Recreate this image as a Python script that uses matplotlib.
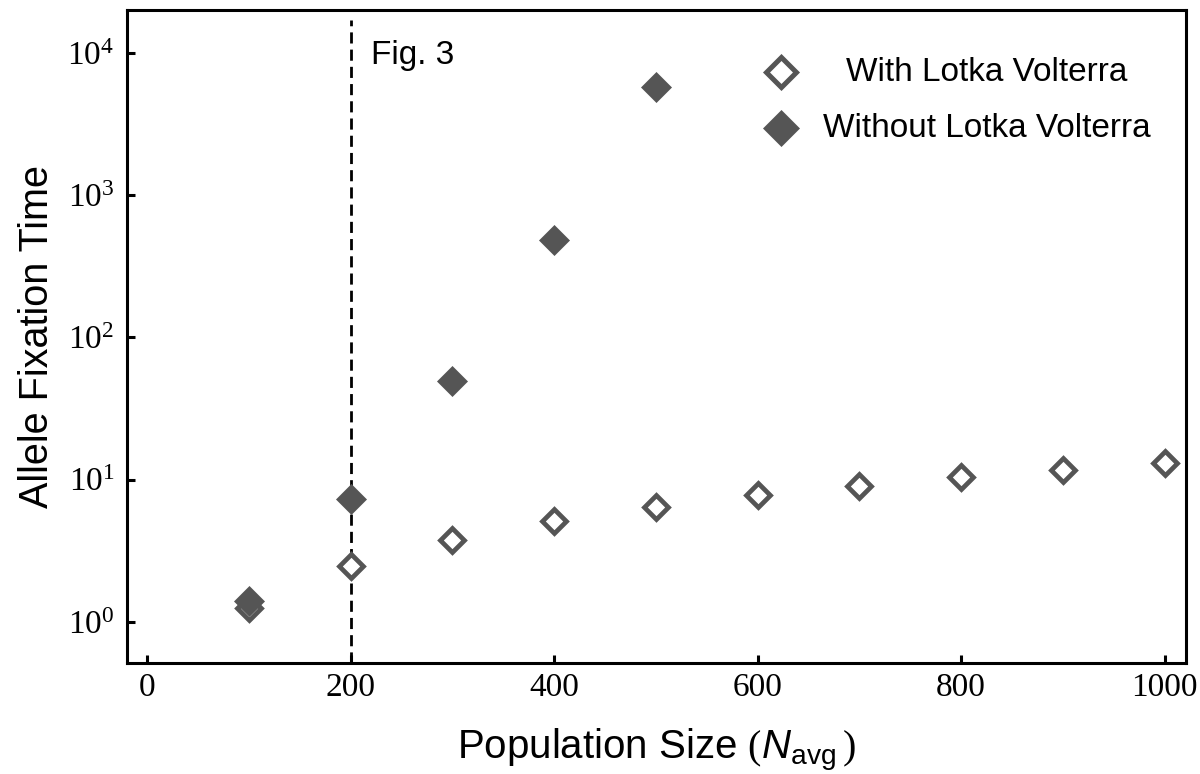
import matplotlib
matplotlib.use("Agg")
import matplotlib.pyplot as plt
import numpy as np

# ----------------------------------------------------------------------
#  Data
# ----------------------------------------------------------------------
n_with = [100, 200, 300, 400, 500, 600, 700, 800, 900, 1000]
t_with = [1.25, 2.48, 3.78, 5.1, 6.45, 7.8, 9.05, 10.5, 11.7, 13.1]

n_without = [100, 200, 300, 400, 500]
t_without = [1.41, 7.3, 49.5, 480, 5750]

fig3_n = 200
labels = ["With Lotka Volterra", "Without Lotka Volterra"]

# ----------------------------------------------------------------------
#  Style
# ----------------------------------------------------------------------
plt.rcParams['font.family'] = 'Liberation Serif'
plt.rcParams['mathtext.fontset'] = 'custom'
plt.rcParams['mathtext.rm'] = 'Liberation Serif'
plt.rcParams['mathtext.it'] = 'Liberation Sans:italic'
plt.rcParams['mathtext.sf'] = 'Liberation Sans'

grey = '#555555'
sans = 'Liberation Sans'

fig = plt.figure(figsize=(12, 7.74), dpi=100)
ax = fig.add_axes([0.1058, 0.1434, 0.8825, 0.8436])

ax.plot(n_with, t_with, linestyle='none', marker='D', ms=12.5,
		mfc='white', mec=grey, mew=3.4, zorder=3)
ax.plot(n_without, t_without, linestyle='none', marker='D', ms=15,
		mfc=grey, mec=grey, mew=0.5, zorder=4)

ax.axvline(fig3_n, ymax=0.985, color='k', lw=2, linestyle=(0, (4, 2.2)), zorder=2)
ax.text(0.230, 0.931, "Fig. 3", transform=ax.transAxes, fontsize=24,
		family=sans, va='center', ha='left')

ax.set_yscale('log')
ax.set_xlim(-20, 1021)
ax.set_ylim(10 ** -0.289, 10 ** 4.30)
ax.set_xticks([0, 200, 400, 600, 800, 1000])
ax.set_yticks([1, 10, 100, 1000, 10000])
ax.yaxis.set_minor_locator(matplotlib.ticker.NullLocator())

for s in ax.spines.values():
	s.set_linewidth(2.2)
ax.tick_params(which='major', direction='in', length=6, width=2.2, labelsize=24)
ax.tick_params(axis='x', pad=7)
ax.tick_params(axis='y', pad=9)

ax.set_xlabel(r"Population Size $(\mathit{N}_{\mathsf{avg}}\,)$", fontsize=29,
			  family=sans, labelpad=17)
ax.set_ylabel("Allele Fixation Time", fontsize=28.5, family=sans, labelpad=8)

# legend drawn by hand so the labels can be centred like the original
ax.plot([0.6176], [0.905], transform=ax.transAxes, linestyle='none', marker='D',
		ms=15.5, mfc='white', mec=grey, mew=3.6, clip_on=False)
ax.plot([0.6176], [0.819], transform=ax.transAxes, linestyle='none', marker='D',
		ms=18.5, mfc=grey, mec=grey, mew=0.5, clip_on=False)
ax.text(0.812, 0.905, labels[0], transform=ax.transAxes, fontsize=24,
		family=sans, ha='center', va='center')
ax.text(0.812, 0.819, labels[1], transform=ax.transAxes, fontsize=24,
		family=sans, ha='center', va='center')

fig.savefig("out.png", dpi=100)
